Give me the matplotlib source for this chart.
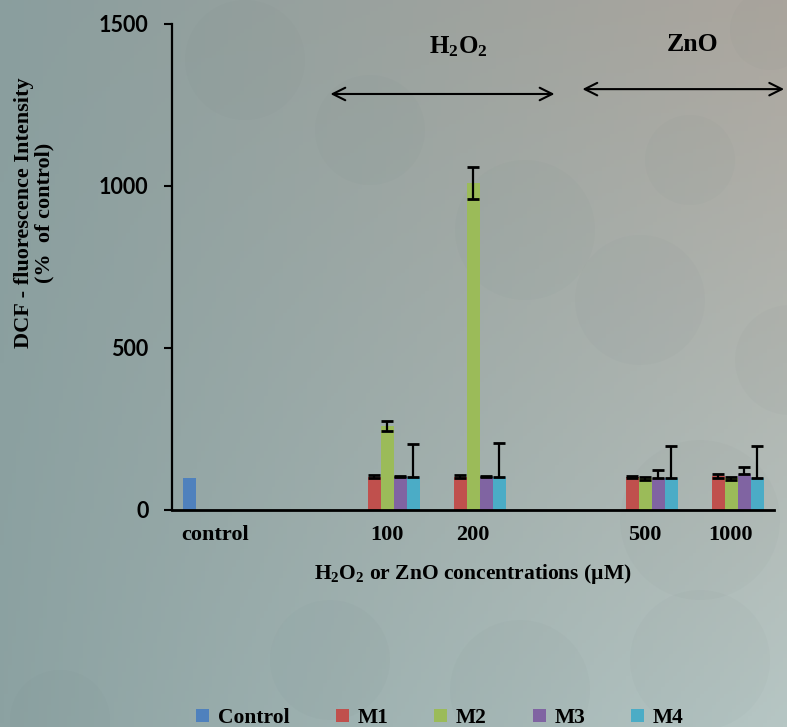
import numpy as np
import matplotlib.pyplot as plt
from matplotlib.patches import Circle, Patch

# categories on the x axis (blank slots keep the gaps between groups)
categories = ['control', '', '100', '200', '', '500', '1000']
series = ['Control', 'M1', 'M2', 'M3', 'M4']
colors = ['#4f81bd', '#c0504d', '#9bbb59', '#8064a2', '#4bacc6']

nan = np.nan
control = [100, nan, nan, nan, nan, nan, nan]
m1 = [nan, nan, 103, 103, nan, 103, 105]
m2 = [nan, nan, 260, 1010, nan, 98, 98]
m3 = [nan, nan, 101, 101, nan, 98, 112]
m4 = [nan, nan, 101, 103, nan, 100, 98]

m1_err = [nan, nan, 5, 4, nan, 3, 6]
m2_err = [nan, nan, 15, 50, nan, 4, 5]
m3_err = [nan, nan, 3, 3, nan, 24, 20]
m4_err = [nan, nan, 102, 103, nan, 99, 98]

values = [control, m1, m2, m3, m4]
errors = [None, m1_err, m2_err, m3_err, m4_err]
plus_only = [False, False, False, True, True]

serif = 'Liberation Serif'
plt.rcParams['mathtext.default'] = 'regular'

fig = plt.figure(figsize=(7.87, 7.27), dpi=100)

# background: soft gradient with faint circles
bg = fig.add_axes([0, 0, 1, 1], zorder=-10)
tl = np.array([138, 158, 158]) / 255
tr = np.array([172, 166, 158]) / 255
bl = np.array([140, 162, 162]) / 255
br = np.array([182, 198, 196]) / 255
u = np.linspace(0, 1, 200)
U, V = np.meshgrid(u, u)
img = ((1 - U)[..., None] * (1 - V)[..., None] * tl + U[..., None] * (1 - V)[..., None] * tr
       + (1 - U)[..., None] * V[..., None] * bl + U[..., None] * V[..., None] * br)
bg.imshow(img, extent=[0, 787, 727, 0], aspect='auto')
for cx, cy, r in [(370, 130, 55), (245, 60, 60), (525, 230, 70), (690, 160, 45), (640, 300, 65),
                  (790, 360, 55), (700, 520, 80), (770, 30, 40), (60, 720, 50), (520, 690, 70),
                  (330, 660, 60), (700, 660, 70)]:
    bg.add_patch(Circle((cx, cy), r, color='#5a6e6e', alpha=0.03, lw=0))
bg.set_xlim(0, 787)
bg.set_ylim(727, 0)
bg.axis('off')

ax = fig.add_axes([172 / 787, 1 - 510 / 727, 602 / 787, 486 / 727])
ax.patch.set_alpha(0)

x = np.arange(len(categories))
w = 13 / 86
for k, (vals, col) in enumerate(zip(values, colors)):
    xs = x + (k - 2) * w
    ax.bar(xs, vals, width=w, color=col, zorder=2)
    if errors[k] is not None:
        err = np.array(errors[k], dtype=float)
        lower = np.zeros_like(err) if plus_only[k] else err
        ax.errorbar(xs, vals, yerr=[lower, err], fmt='none', ecolor='black',
                    elinewidth=1.6, capsize=4.5, capthick=2, zorder=3)

ax.set_xlim(-0.5, 6.5)
ax.set_ylim(0, 1500)
ax.set_yticks([0, 500, 1000, 1500])
ax.set_xticks(x)
ax.set_xticklabels(categories, fontfamily=serif, fontweight='bold', fontsize=16)
for lab in ax.get_yticklabels():
    lab.set_fontfamily('Lato')
    lab.set_fontweight('bold')
    lab.set_fontsize(15.5)
ax.tick_params(axis='x', length=0, pad=11)
ax.tick_params(axis='y', length=6, width=1.5, direction='out', pad=11)
for s in ['top', 'right']:
    ax.spines[s].set_visible(False)
ax.spines['left'].set_linewidth(1.6)
ax.spines['bottom'].set_linewidth(2)

ax.set_xlabel('H$_2$O$_2$ or ZnO concentrations (\u00b5M)',
              fontfamily=serif, fontweight='bold', fontsize=15.5, labelpad=12)

fig.text(34 / 787, 1 - 213 / 727, 'DCF - fluorescence Intensity\n(%  of control)',
         rotation=90, ha='center', va='center', ma='center',
         fontfamily=serif, fontweight='bold', fontsize=16, linespacing=1.05)

# treatment group arrows
ax.annotate('', xy=(1.31, 1284), xytext=(3.98, 1284),
            arrowprops=dict(arrowstyle='<->,head_length=0.9,head_width=0.45', lw=1.5, color='black'))
ax.annotate('', xy=(4.24, 1299), xytext=(6.65, 1299), annotation_clip=False,
            arrowprops=dict(arrowstyle='<->,head_length=0.9,head_width=0.45', lw=1.5, color='black'))
ax.text(2.83, 1429, 'H$_2$O$_2$', ha='center', va='center',
        fontfamily=serif, fontweight='bold', fontsize=18)
ax.text(5.55, 1438, 'ZnO', ha='center', va='center', fontfamily=serif,
        fontweight='bold', fontsize=18.5)

handles = [Patch(facecolor=c, label=s) for s, c in zip(series, colors)]
fig.legend(handles=handles, loc='center', bbox_to_anchor=(440 / 787, 9 / 727), ncol=5,
           frameon=False, handlelength=0.6, handleheight=0.6, handletextpad=0.4,
           columnspacing=2.15, prop={'family': serif, 'weight': 'bold', 'size': 15.5})

fig.savefig('out.png', dpi=100)
